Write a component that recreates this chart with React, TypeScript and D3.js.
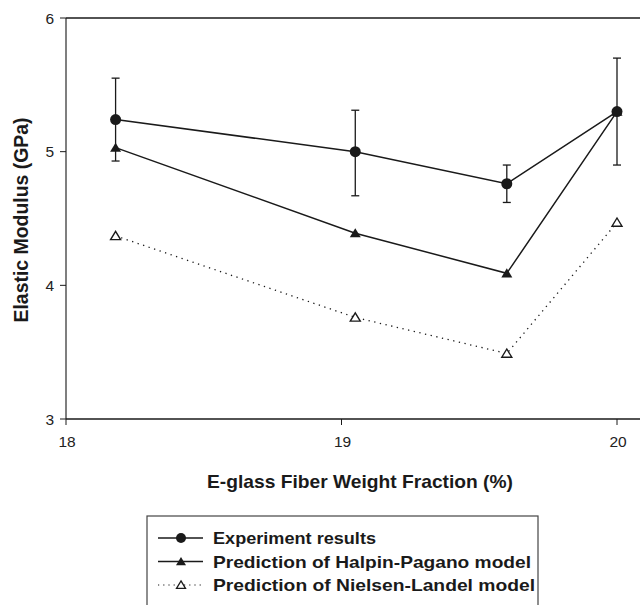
import React from 'react';
import * as d3 from 'd3';

// E-glass fibre weight fraction (%)
const fraction = [18.18, 19.05, 19.6, 20.0];
const experiment = [5.24, 5.0, 4.76, 5.3];
const errUpper = [5.55, 5.31, 4.9, 5.7];
const errLower = [4.93, 4.67, 4.62, 4.9];
const halpinPagano = [5.03, 4.39, 4.09, 5.3];
const nielsenLandel = [4.37, 3.76, 3.49, 4.47];
const xTicks = [18, 19, 20];
const yTicks = [3, 4, 5, 6];
const legendLabels = [
  'Experiment results',
  'Prediction of Halpin-Pagano model',
  'Prediction of Nielsen-Landel model',
];
const legendWidths = [163, 318, 322];

const W = 640;
const H = 605;
const font = '"Liberation Sans", Arial, sans-serif';

const x = d3.scaleLinear().domain([18, 20]).range([66, 617]);
const y = d3.scaleLinear().domain([3, 6]).range([419, 18]);

const line = d3
  .line<number>()
  .x((_, i) => x(fraction[i]))
  .y((d) => y(d));

const triangle = (cx: number, cy: number, s: number) =>
  `M${cx},${cy - s * 0.9}L${cx + s},${cy + s * 0.75}L${cx - s},${cy + s * 0.75}Z`;

export default function App() {
  const ink = '#1a1a1a';
  return (
    <svg
      width={W}
      height={H}
      style={{ position: 'absolute', left: 0, top: 0, background: '#fff' }}
      fontFamily={font}
    >
      {/* frame: left axis, top line, bottom axis */}
      <line x1={66} x2={66} y1={18} y2={419} stroke="#555" strokeWidth={1.5} />
      <line x1={66} x2={640} y1={18} y2={18} stroke={ink} strokeWidth={1.5} />
      <line x1={66} x2={640} y1={419} y2={419} stroke={ink} strokeWidth={1.5} />

      {yTicks.map((t) => (
        <g key={'y' + t}>
          <line x1={60} x2={66} y1={y(t)} y2={y(t)} stroke={ink} strokeWidth={1} />
          <text x={54} y={y(t)} dy="0.36em" textAnchor="end" fontSize={15.5} fill="#222">
            {t}
          </text>
        </g>
      ))}
      {xTicks.map((t) => (
        <g key={'x' + t}>
          <line x1={x(t)} x2={x(t)} y1={419} y2={425} stroke={ink} strokeWidth={1} />
          <text x={x(t) + 1} y={447} textAnchor="middle" fontSize={15.5} fill="#222">
            {t}
          </text>
        </g>
      ))}

      <text
        transform={`translate(28,220) rotate(-90)`}
        textAnchor="middle"
        fontSize={20}
        fontWeight="bold"
        fill={ink}
        textLength={205}
        lengthAdjust="spacingAndGlyphs"
      >
        Elastic Modulus (GPa)
      </text>
      <text
        x={360}
        y={488}
        textAnchor="middle"
        fontSize={19}
        fontWeight="bold"
        fill={ink}
        textLength={306}
        lengthAdjust="spacingAndGlyphs"
      >
        E-glass Fiber Weight Fraction (%)
      </text>

      {/* Nielsen-Landel */}
      <path
        d={line(nielsenLandel) ?? ''}
        fill="none"
        stroke={ink}
        strokeWidth={1.3}
        strokeDasharray="1.3,4.5"
      />
      {nielsenLandel.map((v, i) => (
        <path
          key={'n' + i}
          d={triangle(x(fraction[i]), y(v), 5)}
          fill="#fff"
          stroke={ink}
          strokeWidth={1.4}
        />
      ))}

      {/* Halpin-Pagano */}
      <path d={line(halpinPagano) ?? ''} fill="none" stroke={ink} strokeWidth={1.5} />
      {halpinPagano.map((v, i) => (
        <path key={'h' + i} d={triangle(x(fraction[i]), y(v), 5.5)} fill={ink} />
      ))}

      {/* Experiment with error bars */}
      {experiment.map((v, i) => {
        const cx = x(fraction[i]);
        return (
          <g key={'e' + i} stroke={ink} strokeWidth={1.3}>
            <line x1={cx} x2={cx} y1={y(errUpper[i])} y2={y(errLower[i])} />
            <line x1={cx - 4} x2={cx + 4} y1={y(errUpper[i])} y2={y(errUpper[i])} />
            <line x1={cx - 4} x2={cx + 4} y1={y(errLower[i])} y2={y(errLower[i])} />
          </g>
        );
      })}
      <path d={line(experiment) ?? ''} fill="none" stroke={ink} strokeWidth={1.5} />
      {experiment.map((v, i) => (
        <circle key={'c' + i} cx={x(fraction[i])} cy={y(v)} r={5.5} fill={ink} />
      ))}

      {/* legend */}
      <rect x={147} y={516} width={391} height={100} fill="none" stroke="#444" strokeWidth={1.2} />
      {legendLabels.map((label, i) => {
        const ly = 538 + i * 23.5;
        return (
          <g key={'l' + i}>
            <line
              x1={158}
              x2={203}
              y1={ly}
              y2={ly}
              stroke={ink}
              strokeWidth={i === 2 ? 1.2 : 1.5}
              strokeDasharray={i === 2 ? '1.2,4' : undefined}
            />
            {i === 0 && <circle cx={181} cy={ly} r={5} fill={ink} />}
            {i === 1 && <path d={triangle(181, ly, 5)} fill={ink} />}
            {i === 2 && (
              <path d={triangle(181, ly, 4.5)} fill="#fff" stroke={ink} strokeWidth={1.3} />
            )}
            <text
              x={213}
              y={ly}
              dy="0.36em"
              fontSize={17}
              fontWeight="bold"
              fill={ink}
              textLength={legendWidths[i]}
              lengthAdjust="spacingAndGlyphs"
            >
              {label}
            </text>
          </g>
        );
      })}
    </svg>
  );
}
